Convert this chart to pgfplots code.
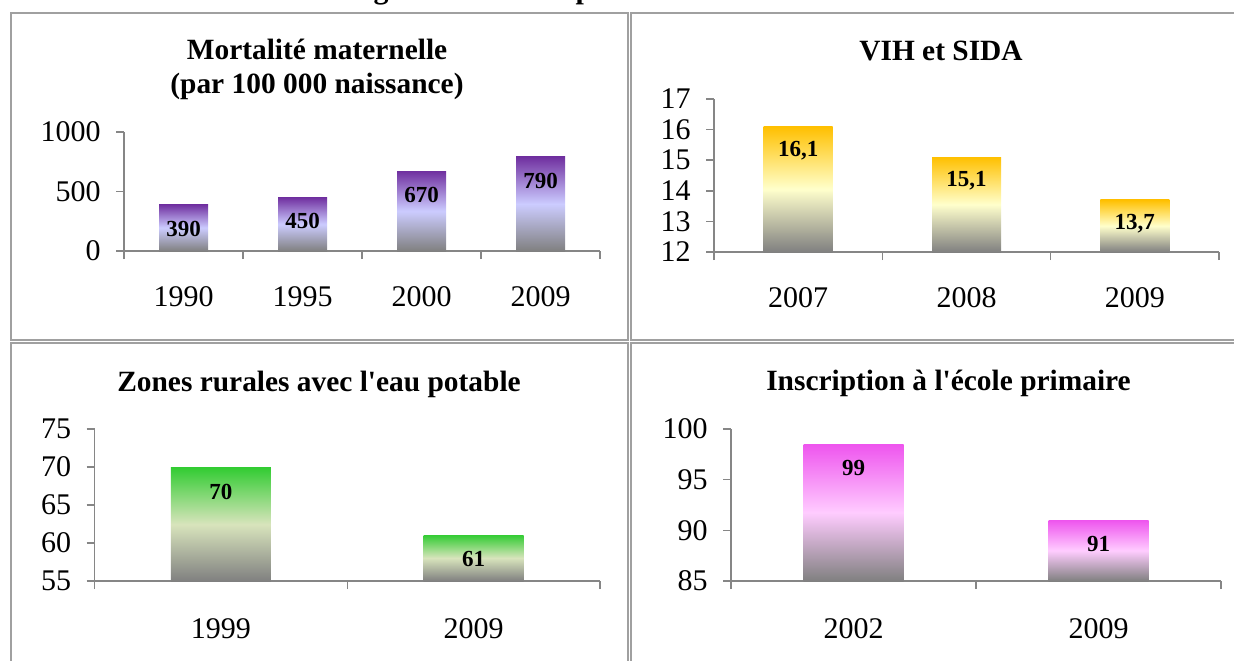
\documentclass[border=0pt]{standalone}
\usepackage{fontspec}
\setmainfont{Liberation Serif}
\usepackage{pgfplots}
\pgfplotsset{compat=1.18}
\definecolor{axgray}{HTML}{868686}
\definecolor{framegray}{HTML}{A0A0A0}
\definecolor{ptop}{HTML}{7030A0}
\definecolor{pmid}{HTML}{CCCCFF}
\definecolor{ytop}{HTML}{FFC000}
\definecolor{ymid}{HTML}{FFFFCC}
\definecolor{gtop}{HTML}{33CC33}
\definecolor{gmid}{HTML}{D8E4BC}
\definecolor{mtop}{HTML}{EE55EE}
\definecolor{mmid}{HTML}{FFCCFF}
\definecolor{barbot}{HTML}{808080}
\newcommand\tickfont{\fontsize{15}{18}\selectfont}
\newcommand\titlefont{\bfseries\fontsize{14.7}{17}\selectfont}
\newcommand\valfont{\bfseries\fontsize{11.5}{13}\selectfont}
\pgfplotsset{
  panel/.style={
    scale only axis,
    anchor=south west,
    axis x line=bottom, axis y line=left,
    axis line style={-, axgray, line width=0.75pt},
    xmin=0,
    tick align=outside,
    major tick length=4pt, minor tick length=4pt,
    tick style={axgray, line width=0.75pt},
    xtick style={draw=none},
    minor x tick style={axgray, line width=0.75pt, draw=axgray},
    ticklabel style={font=\tickfont, text=black},
    yticklabel style={anchor=east, inner sep=0pt, xshift=-7.5pt},
    xticklabel style={anchor=base, inner sep=0pt, yshift=-23.5pt},
    clip=false,
  },
  onebar/.style={ybar, bar shift=0pt, draw=none,
    nodes near coords, point meta=explicit symbolic,
    every node near coord/.append style={font=\valfont, text=black, anchor=center, yshift=-12pt}},
  purplebar/.style={onebar, bar width=24.5pt, top color=ptop, bottom color=barbot, middle color=pmid},
  yellowbar/.style={onebar, bar width=34.5pt, top color=ytop, bottom color=barbot, middle color=ymid},
  greenbar/.style={onebar, bar width=50pt, top color=gtop, bottom color=barbot, middle color=gmid},
  pinkbar/.style={onebar, bar width=50pt, top color=mtop, bottom color=barbot, middle color=mmid},
}
\begin{document}
\begin{tikzpicture}
\useasboundingbox (0pt,0pt) rectangle (617pt,-330pt);
\clip (0pt,0pt) rectangle (617pt,-330pt);
% frames
\draw[framegray, line width=1pt] (5.5pt,-6.5pt) rectangle (314pt,-170pt);
\draw[framegray, line width=1pt] (640pt,-6.5pt) -- (315.5pt,-6.5pt) -- (315.5pt,-170pt) -- (640pt,-170pt);
\draw[framegray, line width=1pt] (314pt,-340pt) -- (314pt,-171.5pt) -- (5.5pt,-171.5pt) -- (5.5pt,-340pt);
\draw[framegray, line width=1pt] (640pt,-171.5pt) -- (315.5pt,-171.5pt) -- (315.5pt,-340pt);
% clipped header fragments (descenders of a title above the page)
\node[font=\bfseries\fontsize{15}{18}\selectfont, anchor=base, inner sep=0pt] at (190.5pt,0.6pt) {g};
\node[font=\bfseries\fontsize{15}{18}\selectfont, anchor=base, inner sep=0pt] at (292pt,0.6pt) {p};
% titles
\node[font=\titlefont, anchor=base] at (158.5pt,-29.5pt) {Mortalité maternelle};
\node[font=\titlefont, anchor=base] at (158.5pt,-46.5pt) {(par 100 000 naissance)};
\node[font=\titlefont, anchor=base] at (470.5pt,-30pt) {VIH et SIDA};
\node[font=\titlefont, anchor=base] at (159.5pt,-195.5pt) {Zones rurales avec l\textquotesingle eau potable};
\node[font=\titlefont, anchor=base] at (474.25pt,-195pt) {Inscription à l\textquotesingle école primaire};

% Panel 1
\begin{axis}[panel, at={(62pt,-125.5pt)}, width=238pt, height=59.5pt,
  xmax=4, ymin=0, ymax=1000, ytick={0,500,1000}, yticklabels={0,500,1000},
  xtick={0.5,1.5,2.5,3.5}, xticklabels={1990,1995,2000,2009}, minor xtick={0,1,2,3,4}]
\addplot[purplebar] coordinates {(0.5,390) [390]};
\addplot[purplebar] coordinates {(1.5,450) [450]};
\addplot[purplebar] coordinates {(2.5,670) [670]};
\addplot[purplebar] coordinates {(3.5,790) [790]};
\end{axis}

% Panel 2
\begin{axis}[panel, at={(357pt,-126pt)}, width=252.5pt, height=76.5pt,
  xmax=3, ymin=12, ymax=17, ytick={12,13,14,15,16,17}, yticklabels={12,13,14,15,16,17},
  xtick={0.5,1.5,2.5}, xticklabels={2007,2008,2009}, minor xtick={0,1,2,3}]
\addplot[yellowbar] coordinates {(0.5,16.1) [{16,1}]};
\addplot[yellowbar] coordinates {(1.5,15.1) [{15,1}]};
\addplot[yellowbar] coordinates {(2.5,13.7) [{13,7}]};
\end{axis}

% Panel 3
\begin{axis}[panel, at={(47.25pt,-290.5pt)}, width=252.75pt, height=76pt,
  xmax=2, ymin=55, ymax=75, ytick={55,60,65,70,75}, yticklabels={55,60,65,70,75},
  xtick={0.5,1.5}, xticklabels={1999,2009}, minor xtick={0,1,2},
  xticklabel style={yshift=-1pt}]
\addplot[greenbar] coordinates {(0.5,69.9) [70]};
\addplot[greenbar] coordinates {(1.5,61.05) [61]};
\end{axis}

% Panel 4
\begin{axis}[panel, at={(365.5pt,-290.5pt)}, width=245pt, height=76pt,
  xmax=2, ymin=85, ymax=100, ytick={85,90,95,100}, yticklabels={85,90,95,100},
  xtick={0.5,1.5}, xticklabels={2002,2009}, minor xtick={0,1,2},
  xticklabel style={yshift=-1pt}]
\addplot[pinkbar] coordinates {(0.5,98.5) [99]};
\addplot[pinkbar] coordinates {(1.5,91.0) [91]};
\end{axis}
\end{tikzpicture}
\end{document}
